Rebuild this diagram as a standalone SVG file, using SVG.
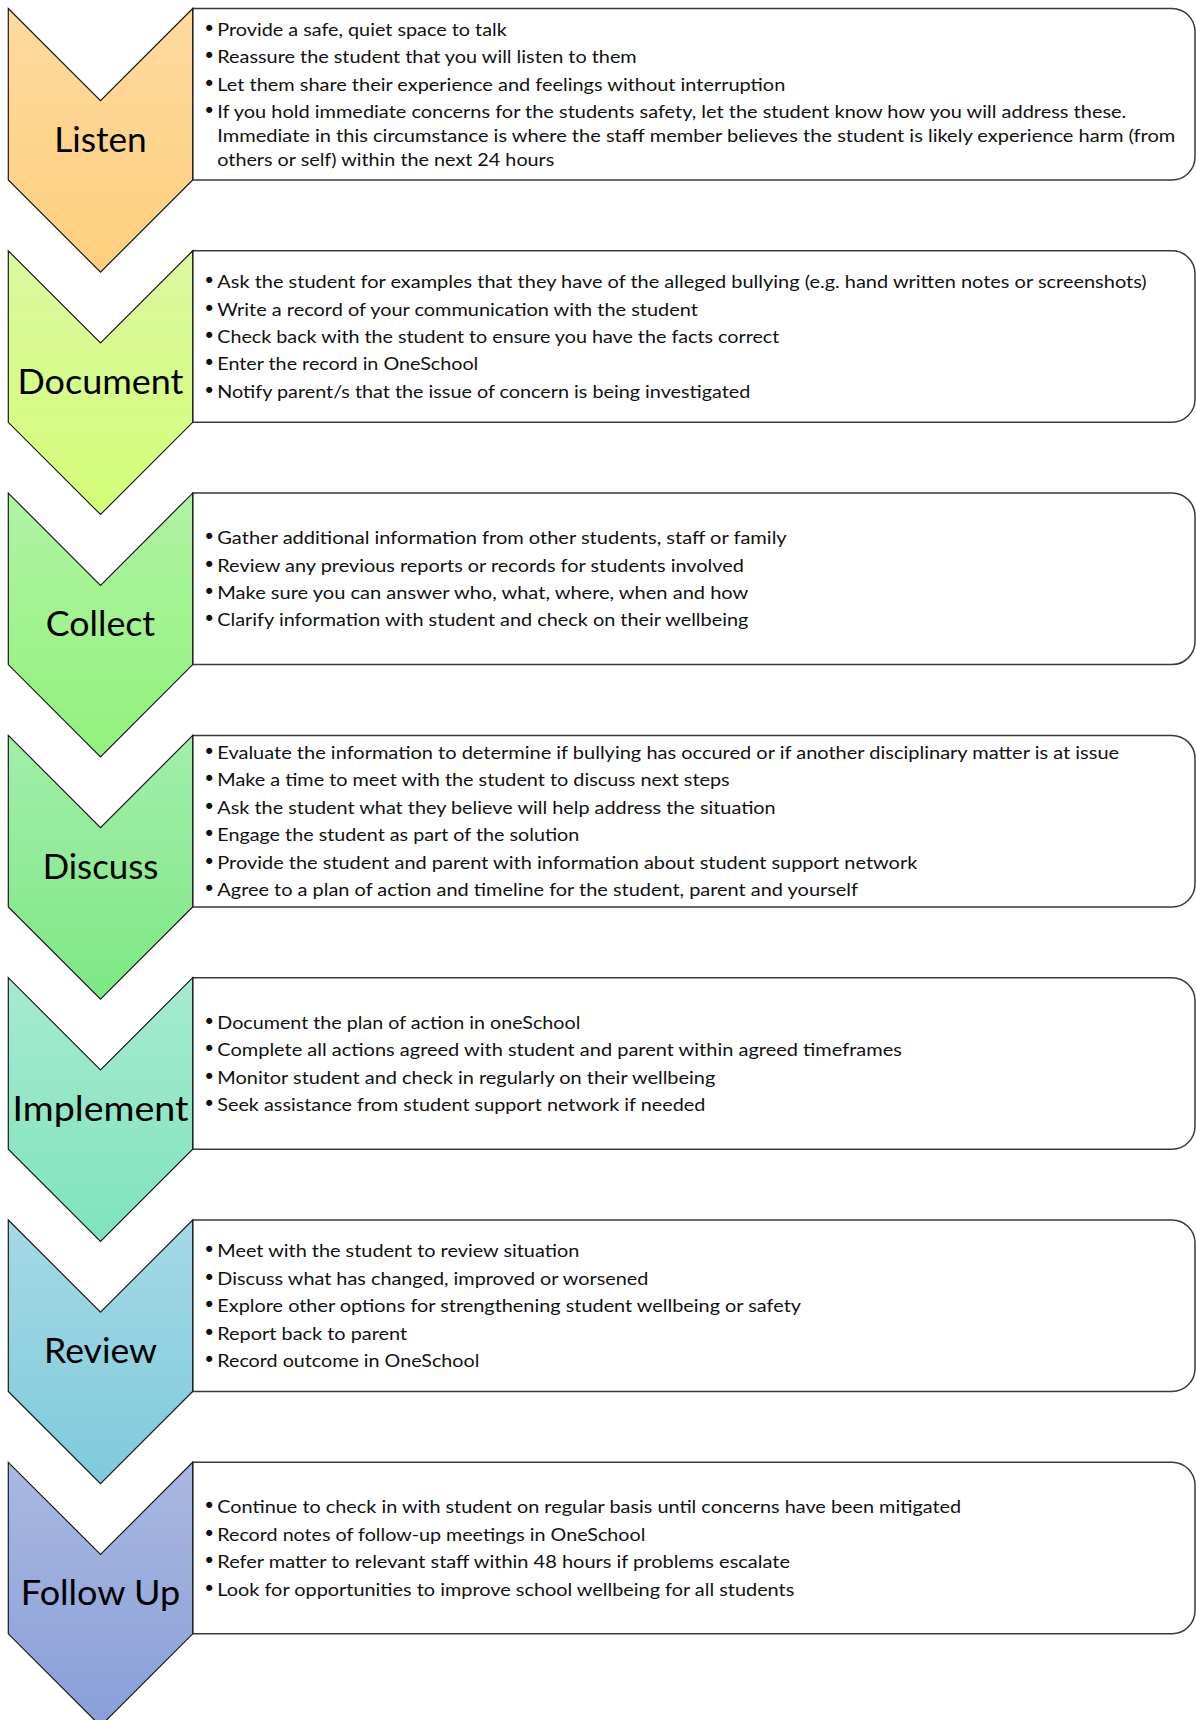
<svg xmlns="http://www.w3.org/2000/svg" width="1196" height="1720" viewBox="0 0 1196 1720">
<style>
.chev{stroke:#1a1a1a;stroke-width:1.2;stroke-linejoin:miter}
.box{fill:#fff;stroke:#3a3a3a;stroke-width:1.5}
.lbl{font-family:Lato,"Liberation Sans",sans-serif;font-size:35px;fill:#000;text-anchor:middle}
.t{font-family:Lato,"Liberation Sans",sans-serif;font-size:18px;fill:#111}
.b{font-family:"DejaVu Sans",sans-serif;font-size:21px;fill:#111}
</style>
<defs>
<linearGradient id="g0" x1="0" y1="0" x2="0" y2="1"><stop offset="0" stop-color="#FDDA9F"/><stop offset="1" stop-color="#FFCF7C"/></linearGradient>
<linearGradient id="g1" x1="0" y1="0" x2="0" y2="1"><stop offset="0" stop-color="#DBF89F"/><stop offset="1" stop-color="#D2FE76"/></linearGradient>
<linearGradient id="g2" x1="0" y1="0" x2="0" y2="1"><stop offset="0" stop-color="#B0F3A4"/><stop offset="1" stop-color="#92F27C"/></linearGradient>
<linearGradient id="g3" x1="0" y1="0" x2="0" y2="1"><stop offset="0" stop-color="#A3EEAB"/><stop offset="1" stop-color="#7DE884"/></linearGradient>
<linearGradient id="g4" x1="0" y1="0" x2="0" y2="1"><stop offset="0" stop-color="#A6EACF"/><stop offset="1" stop-color="#7FE3BE"/></linearGradient>
<linearGradient id="g5" x1="0" y1="0" x2="0" y2="1"><stop offset="0" stop-color="#A5D8E5"/><stop offset="1" stop-color="#7FCADB"/></linearGradient>
<linearGradient id="g6" x1="0" y1="0" x2="0" y2="1"><stop offset="0" stop-color="#AAB8E1"/><stop offset="1" stop-color="#889FD8"/></linearGradient>
<path id="chevShape" d="M8.3,0 L100.5,92.2 L192.7,0 L192.7,171.5 L100.5,263.7 L8.3,171.5 Z"/>
<path id="boxShape" d="M192.7,0 H1172 A23,23 0 0 1 1195,23 V148.5 A23,23 0 0 1 1172,171.5 H192.7 Z"/>
</defs>

<g id="step-listen" transform="translate(0,8.5)">
<use href="#boxShape" class="box"/>
<use href="#chevShape" class="chev" fill="url(#g0)"/>
<text class="lbl" x="100.5" y="143.2" textLength="92.5" lengthAdjust="spacingAndGlyphs">Listen</text>
<text class="b" x="203" y="27.3">•</text>
<text class="t" x="217.3" y="27.3" textLength="289.4" lengthAdjust="spacingAndGlyphs">Provide a safe, quiet space to talk</text>
<text class="b" x="203" y="54.7">•</text>
<text class="t" x="217.3" y="54.7" textLength="419.4" lengthAdjust="spacingAndGlyphs">Reassure the student that you will listen to them</text>
<text class="b" x="203" y="82.1">•</text>
<text class="t" x="217.3" y="82.1" textLength="568" lengthAdjust="spacingAndGlyphs">Let them share their experience and feelings without interruption</text>
<text class="b" x="203" y="109.5">•</text>
<text class="t" x="217.3" y="109.5" textLength="909" lengthAdjust="spacingAndGlyphs">If you hold immediate concerns for the students safety, let the student know how you will address these.</text>
<text class="t" x="217.3" y="133.5" textLength="958" lengthAdjust="spacingAndGlyphs">Immediate in this circumstance is where the staff member believes the student is likely experience harm (from</text>
<text class="t" x="217.3" y="157.5" textLength="337" lengthAdjust="spacingAndGlyphs">others or self) within the next 24 hours</text>
</g>

<g id="step-document" transform="translate(0,250.8)">
<use href="#boxShape" class="box"/>
<use href="#chevShape" class="chev" fill="url(#g1)"/>
<text class="lbl" x="100.5" y="143.2" textLength="166" lengthAdjust="spacingAndGlyphs">Document</text>
<text class="b" x="203" y="37.4">•</text>
<text class="t" x="217.3" y="37.4" textLength="929.4" lengthAdjust="spacingAndGlyphs">Ask the student for examples that they have of the alleged bullying (e.g. hand written notes or screenshots)</text>
<text class="b" x="203" y="64.8">•</text>
<text class="t" x="217.3" y="64.8" textLength="480.5" lengthAdjust="spacingAndGlyphs">Write a record of your communication with the student</text>
<text class="b" x="203" y="92.2">•</text>
<text class="t" x="217.3" y="92.2" textLength="562" lengthAdjust="spacingAndGlyphs">Check back with the student to ensure you have the facts correct</text>
<text class="b" x="203" y="119.6">•</text>
<text class="t" x="217.3" y="119.6" textLength="261" lengthAdjust="spacingAndGlyphs">Enter the record in OneSchool</text>
<text class="b" x="203" y="147">•</text>
<text class="t" x="217.3" y="147" textLength="533" lengthAdjust="spacingAndGlyphs">Notify parent/s that the issue of concern is being investigated</text>
</g>

<g id="step-collect" transform="translate(0,493.1)">
<use href="#boxShape" class="box"/>
<use href="#chevShape" class="chev" fill="url(#g2)"/>
<text class="lbl" x="100.5" y="143.2" textLength="109.3" lengthAdjust="spacingAndGlyphs">Collect</text>
<text class="b" x="203" y="51.1">•</text>
<text class="t" x="217.3" y="51.1" textLength="569.4" lengthAdjust="spacingAndGlyphs">Gather additional information from other students, staff or family</text>
<text class="b" x="203" y="78.5">•</text>
<text class="t" x="217.3" y="78.5" textLength="526.6" lengthAdjust="spacingAndGlyphs">Review any previous reports or records for students involved</text>
<text class="b" x="203" y="105.9">•</text>
<text class="t" x="217.3" y="105.9" textLength="531" lengthAdjust="spacingAndGlyphs">Make sure you can answer who, what, where, when and how</text>
<text class="b" x="203" y="133.3">•</text>
<text class="t" x="217.3" y="133.3" textLength="531" lengthAdjust="spacingAndGlyphs">Clarify information with student and check on their wellbeing</text>
</g>

<g id="step-discuss" transform="translate(0,735.4)">
<use href="#boxShape" class="box"/>
<use href="#chevShape" class="chev" fill="url(#g3)"/>
<text class="lbl" x="100.5" y="143.2" textLength="115.7" lengthAdjust="spacingAndGlyphs">Discuss</text>
<text class="b" x="203" y="23.7">•</text>
<text class="t" x="217.3" y="23.7" textLength="901.8" lengthAdjust="spacingAndGlyphs">Evaluate the information to determine if bullying has occured or if another disciplinary matter is at issue</text>
<text class="b" x="203" y="51.1">•</text>
<text class="t" x="217.3" y="51.1" textLength="512.3" lengthAdjust="spacingAndGlyphs">Make a time to meet with the student to discuss next steps</text>
<text class="b" x="203" y="78.5">•</text>
<text class="t" x="217.3" y="78.5" textLength="558.4" lengthAdjust="spacingAndGlyphs">Ask the student what they believe will help address the situation</text>
<text class="b" x="203" y="105.9">•</text>
<text class="t" x="217.3" y="105.9" textLength="362" lengthAdjust="spacingAndGlyphs">Engage the student as part of the solution</text>
<text class="b" x="203" y="133.3">•</text>
<text class="t" x="217.3" y="133.3" textLength="700" lengthAdjust="spacingAndGlyphs">Provide the student and parent with information about student support network</text>
<text class="b" x="203" y="160.7">•</text>
<text class="t" x="217.3" y="160.7" textLength="640.7" lengthAdjust="spacingAndGlyphs">Agree to a plan of action and timeline for the student, parent and yourself</text>
</g>

<g id="step-implement" transform="translate(0,977.7)">
<use href="#boxShape" class="box"/>
<use href="#chevShape" class="chev" fill="url(#g4)"/>
<text class="lbl" x="100.5" y="143.2" textLength="176" lengthAdjust="spacingAndGlyphs">Implement</text>
<text class="b" x="203" y="51.1">•</text>
<text class="t" x="217.3" y="51.1" textLength="363" lengthAdjust="spacingAndGlyphs">Document the plan of action in oneSchool</text>
<text class="b" x="203" y="78.5">•</text>
<text class="t" x="217.3" y="78.5" textLength="684.6" lengthAdjust="spacingAndGlyphs">Complete all actions agreed with student and parent within agreed timeframes</text>
<text class="b" x="203" y="105.9">•</text>
<text class="t" x="217.3" y="105.9" textLength="498" lengthAdjust="spacingAndGlyphs">Monitor student and check in regularly on their wellbeing</text>
<text class="b" x="203" y="133.3">•</text>
<text class="t" x="217.3" y="133.3" textLength="488" lengthAdjust="spacingAndGlyphs">Seek assistance from student support network if needed</text>
</g>

<g id="step-review" transform="translate(0,1220)">
<use href="#boxShape" class="box"/>
<use href="#chevShape" class="chev" fill="url(#g5)"/>
<text class="lbl" x="100.5" y="143.2" textLength="113" lengthAdjust="spacingAndGlyphs">Review</text>
<text class="b" x="203" y="37.4">•</text>
<text class="t" x="217.3" y="37.4" textLength="362" lengthAdjust="spacingAndGlyphs">Meet with the student to review situation</text>
<text class="b" x="203" y="64.8">•</text>
<text class="t" x="217.3" y="64.8" textLength="431" lengthAdjust="spacingAndGlyphs">Discuss what has changed, improved or worsened</text>
<text class="b" x="203" y="92.2">•</text>
<text class="t" x="217.3" y="92.2" textLength="583.7" lengthAdjust="spacingAndGlyphs">Explore other options for strengthening student wellbeing or safety</text>
<text class="b" x="203" y="119.6">•</text>
<text class="t" x="217.3" y="119.6" textLength="189.8" lengthAdjust="spacingAndGlyphs">Report back to parent</text>
<text class="b" x="203" y="147">•</text>
<text class="t" x="217.3" y="147" textLength="262" lengthAdjust="spacingAndGlyphs">Record outcome in OneSchool</text>
</g>

<g id="step-followup" transform="translate(0,1462.3)">
<use href="#boxShape" class="box"/>
<use href="#chevShape" class="chev" fill="url(#g6)"/>
<text class="lbl" x="100.5" y="143.2" textLength="159.3" lengthAdjust="spacingAndGlyphs">Follow Up</text>
<text class="b" x="203" y="51.1">•</text>
<text class="t" x="217.3" y="51.1" textLength="743.8" lengthAdjust="spacingAndGlyphs">Continue to check in with student on regular basis until concerns have been mitigated</text>
<text class="b" x="203" y="78.5">•</text>
<text class="t" x="217.3" y="78.5" textLength="428" lengthAdjust="spacingAndGlyphs">Record notes of follow-up meetings in OneSchool</text>
<text class="b" x="203" y="105.9">•</text>
<text class="t" x="217.3" y="105.9" textLength="572.7" lengthAdjust="spacingAndGlyphs">Refer matter to relevant staff within 48 hours if problems escalate</text>
<text class="b" x="203" y="133.3">•</text>
<text class="t" x="217.3" y="133.3" textLength="577" lengthAdjust="spacingAndGlyphs">Look for opportunities to improve school wellbeing for all students</text>
</g>
</svg>
